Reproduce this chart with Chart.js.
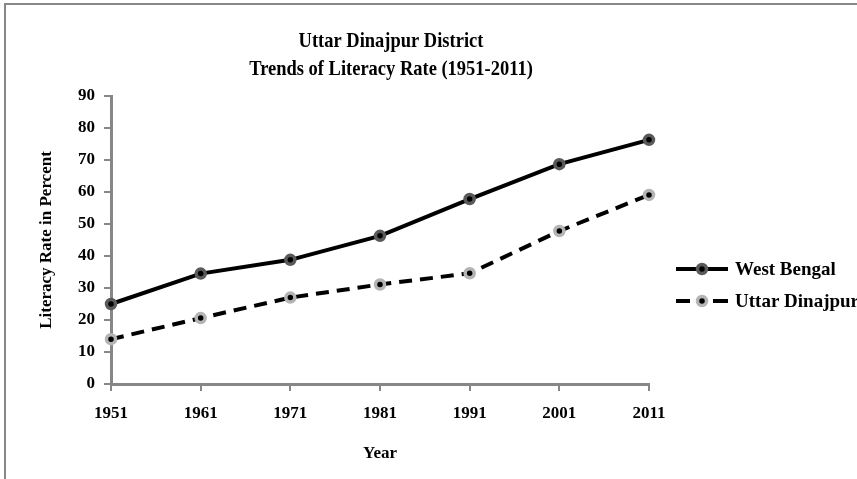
<!DOCTYPE html>
<html>
<head>
<meta charset="utf-8">
<script src="https://cdn.jsdelivr.net/npm/chart.js@4"></script>
<style>
  html, body { margin: 0; padding: 0; background: #fff; }
  #wrap { width: 857px; height: 479px; position: relative; }
</style>
</head>
<body>
<div id="wrap"><canvas id="chart"></canvas></div>
<script>
  const years = ['1951', '1961', '1971', '1981', '1991', '2001', '2011'];
  const westBengal = [25, 34.5, 38.8, 46.3, 57.8, 68.7, 76.3];
  const uttarDinajpur = [14, 20.6, 27, 31.1, 34.6, 47.8, 59.1];
  const yTicks = [0, 10, 20, 30, 40, 50, 60, 70, 80, 90];
  const titleLines = ['Uttar Dinajpur District', 'Trends of Literacy Rate (1951-2011)'];

  const serif = '"Liberation Serif", "Times New Roman", serif';
  const axisGray = '#878787';

  // frame, title and legend drawn on the canvas
  const decor = {
    id: 'decor',
    afterDraw: function (chart) {
      const ctx = chart.ctx;
      ctx.save();
      ctx.strokeStyle = axisGray;
      ctx.lineWidth = 2;
      ctx.beginPath();
      ctx.moveTo(5, 479);
      ctx.lineTo(5, 4);
      ctx.lineTo(857, 4);
      ctx.stroke();

      // title is a bit condensed in the original
      ctx.save();
      ctx.translate(391, 0);
      ctx.scale(0.84, 1);
      ctx.fillStyle = '#000';
      ctx.textAlign = 'center';
      ctx.textBaseline = 'middle';
      ctx.font = 'bold 22px ' + serif;
      ctx.fillText(titleLines[0], 0, 41);
      ctx.fillText(titleLines[1], 0, 69);
      ctx.restore();

      const sets = chart.data.datasets;
      const rows = [269, 301];
      ctx.textBaseline = 'middle';
      sets.forEach(function (ds, i) {
        const y = rows[i];
        ctx.strokeStyle = '#000';
        ctx.lineWidth = 4;
        ctx.beginPath();
        if (ds.borderDash) {
          ctx.moveTo(676, y); ctx.lineTo(690, y);
          ctx.moveTo(713, y); ctx.lineTo(728, y);
        } else {
          ctx.moveTo(676, y); ctx.lineTo(728, y);
        }
        ctx.stroke();
        ctx.beginPath();
        ctx.arc(702, y, ds.pointRadius, 0, Math.PI * 2);
        ctx.fillStyle = '#000';
        ctx.fill();
        ctx.lineWidth = ds.pointBorderWidth;
        ctx.strokeStyle = ds.pointBorderColor;
        ctx.stroke();
        ctx.fillStyle = '#000';
        ctx.textAlign = 'left';
        ctx.font = 'bold 19px ' + serif;
        ctx.fillText(ds.label, 735, y + 1);
      });
      ctx.restore();
    }
  };

  new Chart(document.getElementById('chart'), {
    type: 'line',
    data: {
      labels: years,
      datasets: [{
        label: 'West Bengal',
        data: westBengal,
        borderColor: '#000',
        borderWidth: 4,
        pointRadius: 4.5,
        pointBorderWidth: 3.5,
        pointBackgroundColor: '#000',
        pointBorderColor: '#5a5a5a',
        tension: 0
      }, {
        label: 'Uttar Dinajpur',
        data: uttarDinajpur,
        borderColor: '#000',
        borderWidth: 4,
        borderDash: [13, 8],
        pointRadius: 4.5,
        pointBorderWidth: 3.5,
        pointBackgroundColor: '#000',
        pointBorderColor: '#b4b4b4',
        tension: 0
      }]
    },
    options: {
      responsive: true,
      maintainAspectRatio: false,
      animation: false,
      layout: { padding: { left: 30, right: 208, top: 96, bottom: 15 } },
      plugins: {
        legend: { display: false },
        title: { display: false },
        tooltip: { enabled: false }
      },
      scales: {
        x: {
          type: 'category',
          offset: false,
          afterFit: function (s) { s.height = 80; },
          grid: { drawOnChartArea: false, drawTicks: true, tickLength: 7, color: axisGray, lineWidth: 2 },
          border: { color: axisGray, width: 3 },
          ticks: { color: '#000', padding: 12, maxRotation: 0, font: { family: serif, size: 17, weight: 'bold' } },
          title: { display: true, text: 'Year', color: '#000', padding: { top: 0, bottom: 0 }, font: { family: serif, size: 17, weight: 'bold' } }
        },
        y: {
          min: 0,
          max: 90,
          afterFit: function (s) { s.width = 81; },
          afterBuildTicks: function (s) { s.ticks = yTicks.map(function (v) { return { value: v }; }); },
          grid: { drawOnChartArea: false, drawTicks: true, tickLength: 7, color: axisGray, lineWidth: 2 },
          border: { color: axisGray, width: 3 },
          ticks: { color: '#000', padding: 9, font: { family: serif, size: 17, weight: 'bold' } },
          title: { display: true, text: 'Literacy Rate in Percent', color: '#000', padding: { top: 6, bottom: 0 }, font: { family: serif, size: 17, weight: 'bold' } }
        }
      }
    },
    plugins: [decor]
  });
</script>
</body>
</html>
